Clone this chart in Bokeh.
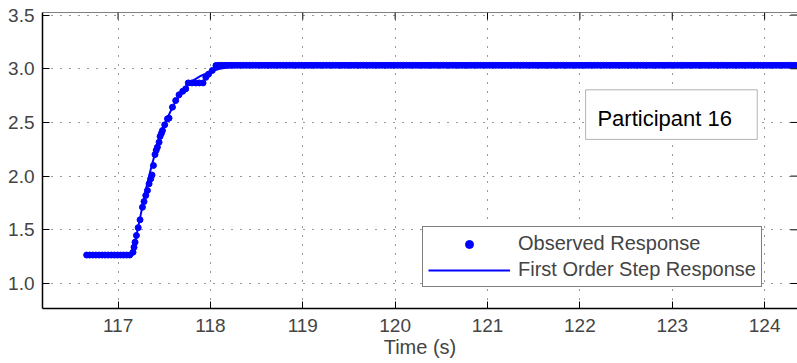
import numpy as np
from bokeh.plotting import figure
from bokeh.models import (Range1d, FixedTicker, PrintfTickFormatter, Span,
                          Legend, LegendItem, BoxAnnotation, Label, ColumnDataSource)
from bokeh.embed import file_html
from bokeh.resources import INLINE

# ---- data -------------------------------------------------------------
# sampling of the recorded signal
sample_dt = 1.0 / 30.0

# held level before the step (s, value)
pre_step_start = 116.66
pre_step_end = 117.15
pre_step_level = 1.265

# observed samples during the transition
rise_t = [117.162, 117.173, 117.184, 117.199, 117.218, 117.238, 117.264, 117.281,
          117.300, 117.318, 117.336, 117.354, 117.368, 117.383, 117.400, 117.413,
          117.426, 117.444, 117.455, 117.470, 117.481, 117.505, 117.535, 117.552,
          117.589, 117.624, 117.660, 117.700, 117.733, 117.760, 117.800, 117.840,
          117.880, 117.920, 117.950, 117.980, 118.020, 118.060]
rise_y = [1.291, 1.338, 1.385, 1.447, 1.520, 1.593, 1.710, 1.763,
          1.820, 1.866, 1.928, 1.975, 2.010, 2.099, 2.201, 2.240,
          2.269, 2.316, 2.370, 2.399, 2.425, 2.478, 2.534, 2.540,
          2.642, 2.704, 2.757, 2.790, 2.813, 2.868, 2.868, 2.868,
          2.868, 2.868, 2.920, 2.950, 2.984, 3.030]

# held level after settling
post_step_start = 118.09
post_step_end = 124.40
post_step_level = 3.032

# fitted first order step response
fit_t = [116.66, 117.155, 117.20, 117.25, 117.30, 117.35, 117.40, 117.45,
         117.50, 117.55, 117.60, 117.65, 117.70, 117.75, 117.80, 117.85,
         117.90, 117.95, 118.00, 118.10, 118.20, 118.35, 118.55, 124.40]
fit_y = [1.265, 1.265, 1.450, 1.660, 1.870, 2.050, 2.210, 2.360,
         2.470, 2.570, 2.660, 2.730, 2.790, 2.855, 2.885, 2.910,
         2.935, 2.955, 2.975, 3.000, 3.015, 3.025, 3.032, 3.032]

x_ticks = [117, 118, 119, 120, 121, 122, 123, 124]
y_ticks = [1.0, 1.5, 2.0, 2.5, 3.0, 3.5]

# ---- assemble observed series -----------------------------------------
pre_t = np.arange(pre_step_start, pre_step_end, sample_dt)
post_t = np.arange(post_step_start, post_step_end, sample_dt)
obs_t = np.concatenate([pre_t, rise_t, post_t])
obs_y = np.concatenate([np.full(len(pre_t), pre_step_level), rise_y,
                        np.full(len(post_t), post_step_level)])

obs_src = ColumnDataSource(dict(t=obs_t, y=obs_y))
fit_src = ColumnDataSource(dict(t=fit_t, y=fit_y))

FONT = "Liberation Sans"
BLUE = "#0000ff"

X0, X1 = 116.182, 124.356
Y0, Y1 = 0.767, 3.524
W, H = 797, 363
BL, BT, BB = 42, 12, 55
px_x = (W - BL) / (X1 - X0)          # pixels per second
px_y = (H - BT - BB) / (Y1 - Y0)     # pixels per unit
TICK = 7                              # inward tick length, px

p = figure(width=W, height=H, output_backend="svg", toolbar_location=None,
           x_range=Range1d(X0, X1), y_range=Range1d(Y0, Y1),
           min_border_left=BL, min_border_right=0, min_border_top=BT,
           min_border_bottom=BB)
p.outline_line_color = None
p.background_fill_color = "white"
p.border_fill_color = "white"

xt = FixedTicker(ticks=x_ticks, minor_ticks=[])
yt = FixedTicker(ticks=y_ticks, minor_ticks=[])

for g, tk in ((p.xgrid[0], xt), (p.ygrid[0], yt)):
    g.ticker = tk
    g.grid_line_color = "black"
    g.grid_line_alpha = 0.8
    g.grid_line_width = 1
    g.grid_line_dash = "1 8"

dots = p.scatter("t", "y", source=obs_src, size=6, color=BLUE, line_color=BLUE)
fit_line = p.line("t", "y", source=fit_src, line_width=2, color=BLUE)

# bottom axis
ax = p.xaxis[0]
ax.ticker = xt
ax.axis_label = "Time (s)"
ax.axis_label_text_font = FONT
ax.axis_label_text_font_size = "20px"
ax.axis_label_text_font_style = "normal"
ax.axis_label_standoff = 1
ax.major_label_text_font = FONT
ax.major_label_text_font_size = "19px"
ax.major_label_standoff = 10
ax.major_tick_in = TICK
ax.major_tick_out = 0
ax.minor_tick_in = 0
ax.minor_tick_out = 0
ax.axis_line_width = 1.5
ax.axis_line_color = "black"
ax.major_tick_line_color = "black"

# left axis
ay = p.yaxis[0]
ay.ticker = yt
ay.formatter = PrintfTickFormatter(format="%.1f")
ay.major_label_text_font = FONT
ay.major_label_text_font_size = "19px"
ay.major_label_standoff = 8
ay.major_tick_in = TICK
ay.major_tick_out = 0
ay.minor_tick_in = 0
ay.minor_tick_out = 0
ay.axis_line_width = 1.5
ay.axis_line_color = "black"
ay.major_tick_line_color = "black"

# top edge of the box with its inward ticks, and the right-hand ticks
p.add_layout(Span(location=Y1, dimension="width", line_color="black", line_width=1))
p.segment(x0=x_ticks, x1=x_ticks, y0=[Y1] * len(x_ticks),
          y1=[Y1 - TICK / px_y] * len(x_ticks), line_color="black", line_width=1)
p.segment(x0=[X1] * len(y_ticks), x1=[X1 - TICK / px_x] * len(y_ticks),
          y0=y_ticks, y1=y_ticks, line_color="black", line_width=1)

# participant tag
p.add_layout(BoxAnnotation(left=122.062, right=123.92, bottom=2.342, top=2.804,
                           fill_color="white", fill_alpha=1.0,
                           line_color="black", line_width=1))
p.add_layout(Label(x=122.19, y=2.534, text="Participant 16", text_font=FONT,
                   text_font_size="22px", text_baseline="alphabetic",
                   text_align="left", text_color="black"))

legend = Legend(items=[LegendItem(label="Observed Response", renderers=[dots]),
                       LegendItem(label="First Order Step Response", renderers=[fit_line])],
                location=(380, 21), orientation="vertical",
                border_line_color="black", border_line_width=1,
                background_fill_color="white", background_fill_alpha=1.0,
                padding=5, spacing=3, margin=0,
                glyph_width=82, glyph_height=20, label_height=20, label_standoff=8,
                label_text_font=FONT, label_text_font_size="20px")
p.add_layout(legend)

open("out.html", "w").write(file_html(p, INLINE))
